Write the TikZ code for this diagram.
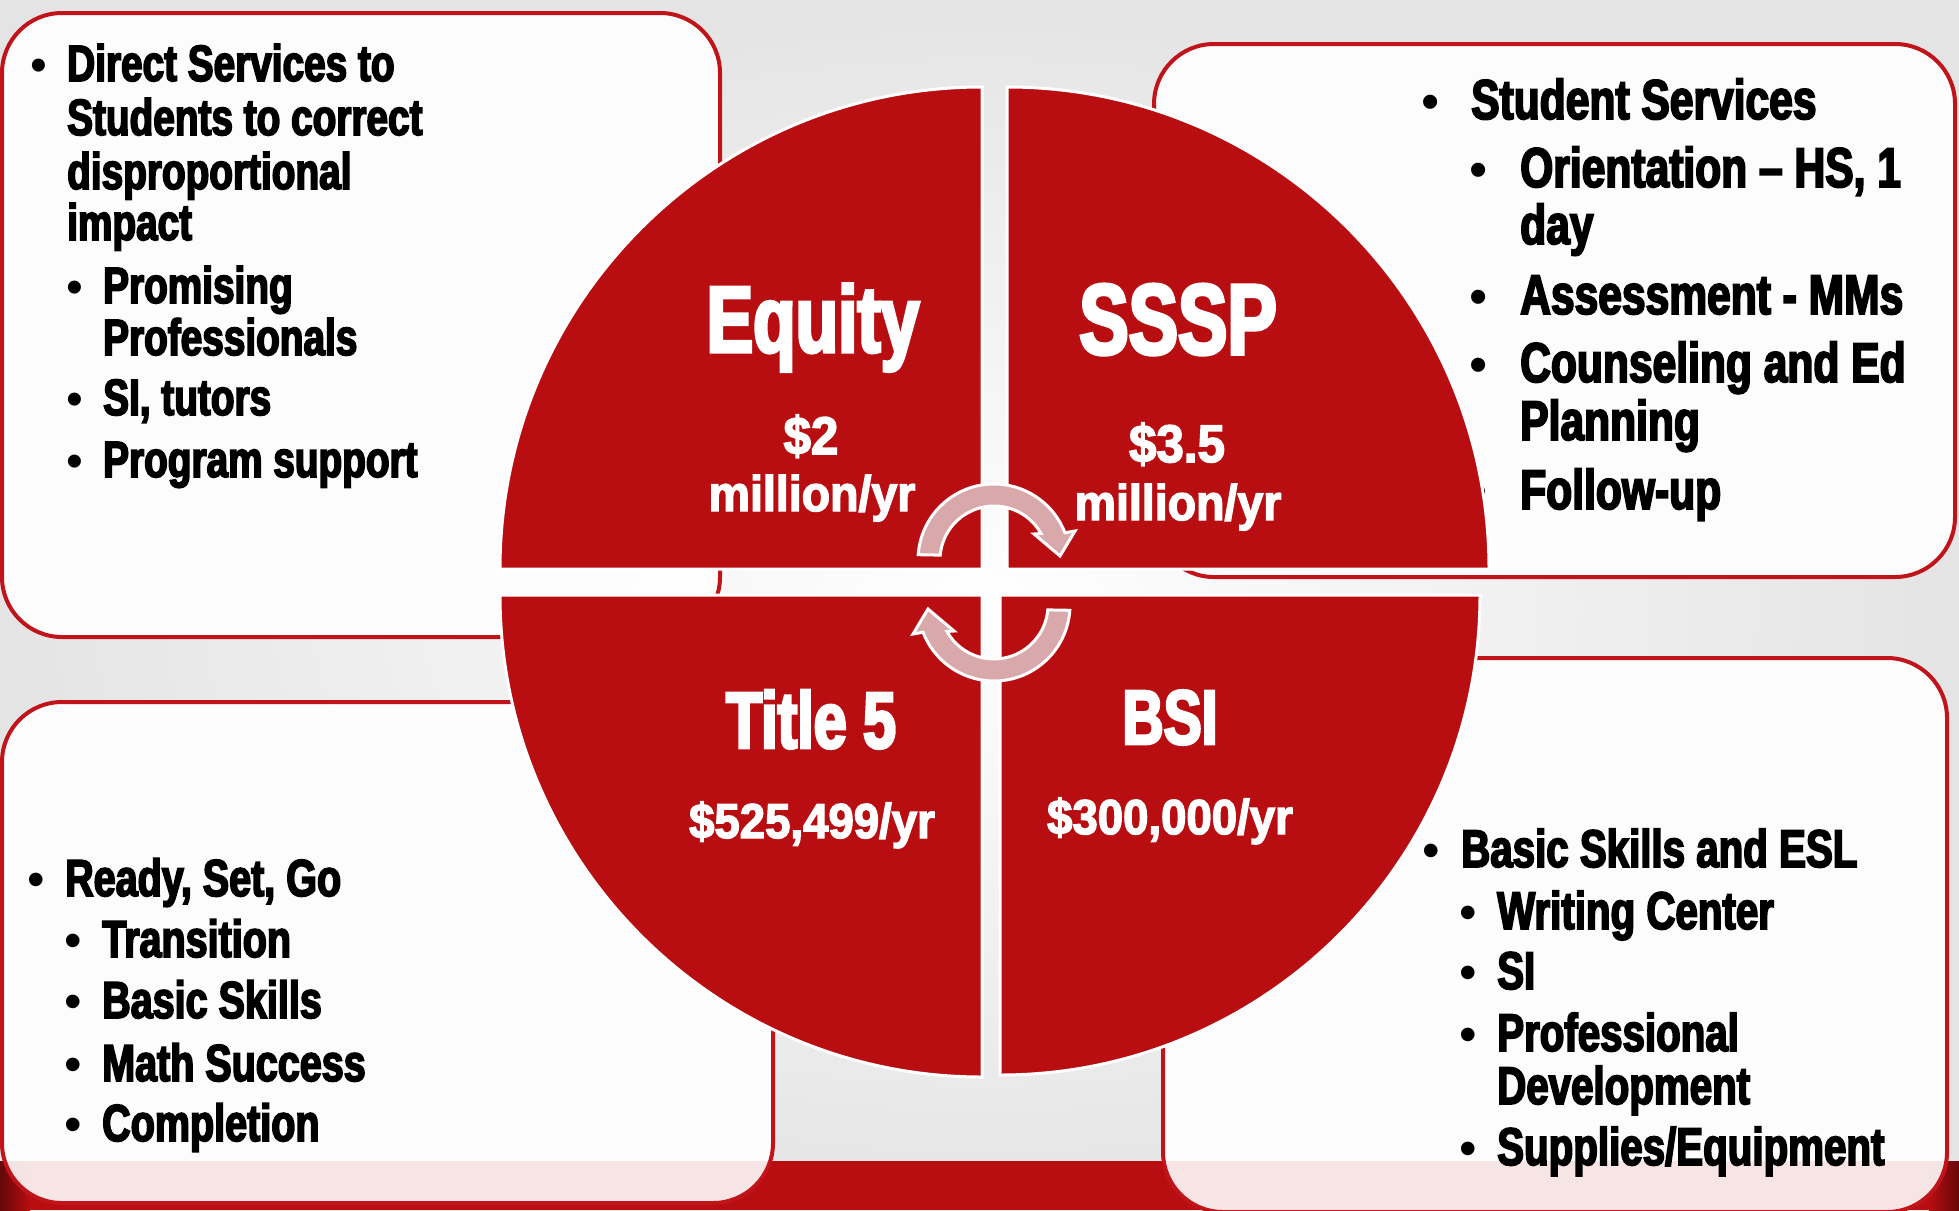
\documentclass[tikz,border=0pt]{standalone}
\usepackage{fontspec}
\newfontfamily\bodyfont{Liberation Sans Bold}[FakeStretch=0.76, FakeBold=3.2]
\newfontfamily\titlefont{Liberation Sans Bold}[FakeStretch=0.74, FakeBold=3.5]
\newfontfamily\amountfont{Liberation Sans Bold}[FakeStretch=0.93, FakeBold=2.8]
\newfontfamily\dotfont{Liberation Sans}

\definecolor{quadred}{RGB}{184,14,17}
\definecolor{boxred}{RGB}{192,20,26}
\definecolor{arrowpink}{RGB}{216,168,170}
\definecolor{bggrey}{RGB}{228,228,228}

\begin{document}
\begin{tikzpicture}[x=1pt, y=-1pt]
\tikzset{
	infobox/.style = {
		draw=boxred, line width=4pt,
		fill=white, fill opacity=0.89,
		rounded corners=60pt
	},
	item/.style = {
		anchor=base west, inner sep=0pt
	},
	dot/.style = {
		anchor=base, inner sep=0pt
	},
	quadrant/.style = {
		fill=quadred, draw=white, line width=3pt
	},
	fund/.style = {
		anchor=base, inner sep=0pt, text=white
	},
	cyclearrow/.pic = {
		\filldraw[fill=arrowpink, draw=white, line width=3pt]
			(184:76) arc[start angle=184, end angle=339, radius=76]
			-- (81,-29) -- (66,-4) -- (40,-26)
			-- (-29.4:54) arc[start angle=-29.4, end angle=-174.8, radius=54]
			-- cycle;
	},
}

\useasboundingbox (0,0) rectangle (1959,1210);

% background
\shade[inner color=white, outer color=bggrey] (0,0) rectangle (1959,1210);
\fill[quadred] (0,1161) rectangle (1959,1210);
\shade[left color=quadred!55!black, right color=quadred] (0,1161) rectangle (30,1210);
\shade[left color=quadred, right color=quadred!55!black] (1929,1161) rectangle (1959,1210);

% the four boxes
\draw[infobox] (2,13) rectangle (720,637);
\draw[infobox] (1154,44) rectangle (1955,577);
\draw[infobox] (2,702) rectangle (773,1203);
\draw[infobox] (1163,658) rectangle (1947,1212);

% equity box
\foreach \y/\t in {81/Direct Services to, 135/Students to correct, 189/disproportional, 240/impact}
  \node[item, font=\bodyfont\fontsize{51}{60}\selectfont] (tl\y) at (67,\y) {\t};
\foreach \y/\t in {303/Promising, 355/Professionals, 415/{SI, tutors}, 477/Program support}
  \node[item, font=\bodyfont\fontsize{51}{60}\selectfont] (tl\y) at (103,\y) {\t};
\node[dot, font=\dotfont\fontsize{48}{50}\selectfont] (tldot) at (39,81) {•};
\foreach \y in {303,415,477}
  \node[dot, font=\dotfont\fontsize{48}{50}\selectfont] (tldot\y) at (75,\y) {•};

% sssp box
\node[item, font=\bodyfont\fontsize{56}{60}\selectfont] (tr119) at (1471,119) {Student Services};
\foreach \y/\t in {187/{Orientation – HS, 1}, 244/day, 314/Assessment - MMs, 382/Counseling and Ed, 440/Planning, 509/Follow-up}
  \node[item, font=\bodyfont\fontsize{56}{60}\selectfont] (tr\y) at (1520,\y) {\t};
\node[dot, font=\dotfont\fontsize{52}{55}\selectfont] (trdot) at (1431,119) {•};
\foreach \y in {187,314,382,509}
  \node[dot, font=\dotfont\fontsize{52}{55}\selectfont] (trdot\y) at (1479,\y) {•};

% title 5 box
\node[item, font=\bodyfont\fontsize{52}{60}\selectfont] (bl896) at (65,896) {Ready, Set, Go};
\foreach \y/\t in {957/Transition, 1018/Basic Skills, 1081/Math Success, 1141/Completion}
{
  \node[item, font=\bodyfont\fontsize{52}{60}\selectfont] (bl\y) at (102,\y) {\t};
  \node[dot, font=\dotfont\fontsize{50}{55}\selectfont] (bldot\y) at (73,\y) {•};
}
\node[dot, font=\dotfont\fontsize{50}{55}\selectfont] (bldot) at (36,896) {•};

% bsi box
\node[item, font=\bodyfont\fontsize{53}{60}\selectfont] (br867) at (1461,867) {Basic Skills and ESL};
\foreach \y/\t in {929/Writing Center, 989/SI, 1051/Professional, 1104/Development, 1165/{Supplies/Equipment}}
  \node[item, font=\bodyfont\fontsize{53}{60}\selectfont] (br\y) at (1497,\y) {\t};
\node[dot, font=\dotfont\fontsize{50}{55}\selectfont] (brdot) at (1431,867) {•};
\foreach \y in {929,989,1051,1165}
  \node[dot, font=\dotfont\fontsize{50}{55}\selectfont] (brdot\y) at (1468,\y) {•};

% quarters of the circle
\foreach \cx/\cy/\a/\r in {982/569/180/482, 1007/569/270/482, 1000/595/0/480, 982/595/90/482}
  \draw[quadrant] (\cx,\cy) -- ++(\a:\r) arc[start angle=\a, end angle=\a+90, radius=\r] -- cycle;

% funding labels
\node[fund, font=\titlefont\fontsize{94}{100}\selectfont] (equity) at (813,352) {Equity};
\node[fund, font=\titlefont\fontsize{100}{100}\selectfont] (sssp) at (1178,354) {SSSP};
\node[fund, font=\titlefont\fontsize{80}{90}\selectfont] (title5) at (811,748) {Title 5};
\node[fund, font=\titlefont\fontsize{77}{90}\selectfont] (bsi) at (1170,744) {BSI};

\node[fund, font=\amountfont\fontsize{53}{60}\selectfont] (equityamt) at (811,454) {\$2};
\node[fund, font=\amountfont\fontsize{50}{60}\selectfont] (equityyr) at (812,511) {million/yr};
\node[fund, font=\amountfont\fontsize{53}{60}\selectfont] (ssspamt) at (1177,462) {\$3.5};
\node[fund, font=\amountfont\fontsize{50}{60}\selectfont] (ssspyr) at (1178,520) {million/yr};
\node[fund, font=\amountfont\fontsize{49}{60}\selectfont] (title5amt) at (812,838) {\$525,499/yr};
\node[fund, font=\amountfont\fontsize{49}{60}\selectfont] (bsiamt) at (1170,834) {\$300,000/yr};

% the two turning arrows
\pic (turntop) at (994,560) {cyclearrow};
\pic[rotate=180] (turnbottom) at (994,605) {cyclearrow};

\end{tikzpicture}
\end{document}
